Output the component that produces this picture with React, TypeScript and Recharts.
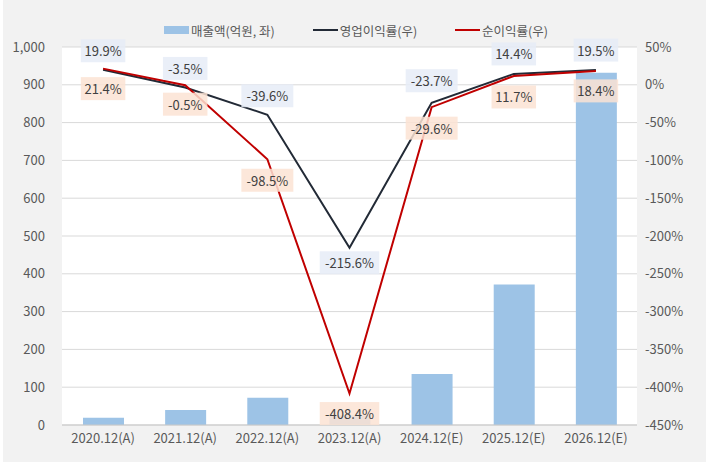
import { ComposedChart, Bar, Line, XAxis, YAxis, CartesianGrid, Legend, LabelList } from "recharts";

const categories = ["2020.12(A)", "2021.12(A)", "2022.12(A)", "2023.12(A)", "2024.12(E)", "2025.12(E)", "2026.12(E)"];
const sales = [19, 40, 72, 25, 135, 372, 932];
const opMargin = [19.9, -3.5, -39.6, -215.6, -23.7, 14.4, 19.5];
const netMargin = [21.4, -0.5, -98.5, -408.4, -29.6, 11.7, 18.4];
const leftTicks = [0, 100, 200, 300, 400, 500, 600, 700, 800, 900, 1000];
const rightTicks = [50, 0, -50, -100, -150, -200, -250, -300, -350, -400, -450];

const data = categories.map((c, i) => ({
  name: c,
  sales: sales[i],
  op: opMargin[i],
  net: netMargin[i],
}));

// label placement (px from the point)
const opOffsets = [-19, -19, -19, 15, -22, -20, -20];
const netOffsets = [20, 19, 21, 20, 21, 21, 20];

const FONT = "'Noto Sans CJK KR', 'Noto Sans', sans-serif";

const makeLabel = (bg: string, offsets: number[], values: number[]) => (props: any) => {
  const { x, y, index } = props;
  const text = `${values[index].toFixed(1)}%`;
  const w = text.length * 7.5 + 7;
  const h = 23;
  const cy = y + offsets[index];
  return (
    <g>
      <rect x={x - w / 2} y={cy - h / 2} width={w} height={h} fill={bg} fillOpacity={0.85} />
      <text x={x} y={cy} textAnchor="middle" dominantBaseline="central" fontSize={13} fill="#404040" fontFamily={FONT}>
        {text}
      </text>
    </g>
  );
};

const legendItems = [
  { label: "매출액(억원, 좌)", type: "rect", color: "#9dc3e6" },
  { label: "영업이익률(우)", type: "line", color: "#222a36" },
  { label: "순이익률(우)", type: "line", color: "#c00000" },
];

function LegendContent() {
  return (
    <div style={{ display: "flex", justifyContent: "center", alignItems: "center", height: 20, gap: 38, paddingLeft: 6, fontFamily: FONT, fontSize: 12.5, color: "#595959" }}>
      {legendItems.map((it) => (
        <div key={it.label} style={{ display: "flex", alignItems: "center" }}>
          <div style={{ width: 25, height: it.type === "rect" ? 8 : 2, background: it.color, marginRight: 2 }} />
          <span>{it.label}</span>
        </div>
      ))}
    </div>
  );
}

export default function App() {
  return (
    <div style={{ position: "absolute", left: 0, top: 0, width: 706, height: 465, background: "#fff" }}>
      <div style={{ position: "absolute", left: 3, top: 0, width: 703, height: 462, background: "#f2f2f2" }} />
      <div style={{ position: "absolute", left: 0, top: 0 }}>
        <ComposedChart width={706} height={465} data={data} margin={{ top: 27, right: 0, bottom: 0, left: 0 }}>
          <CartesianGrid yAxisId="left" vertical={false} stroke="#d9d9d9" fill="#ffffff" />
          <XAxis
            dataKey="name"
            height={40}
            tickLine={false}
            tickSize={0}
            tickMargin={9}
            axisLine={{ stroke: "#c8c8c8" }}
            tick={{ fontSize: 13, fill: "#595959", fontFamily: FONT }}
            interval={0}
          />
          <YAxis
            yAxisId="left"
            width={62}
            domain={[0, 1000]}
            ticks={leftTicks}
            tickLine={false}
            axisLine={false}
            tickSize={0}
            tickMargin={17}
            tickFormatter={(v: number) => v.toLocaleString("en-US")}
            tick={{ fontSize: 13, fill: "#595959", fontFamily: FONT }}
          />
          <YAxis
            yAxisId="right"
            orientation="right"
            width={69}
            domain={[-450, 50]}
            ticks={rightTicks}
            tickLine={false}
            axisLine={false}
            tickSize={0}
            tickMargin={8}
            tickFormatter={(v: number) => `${v}%`}
            tick={{ fontSize: 13, fill: "#595959", fontFamily: FONT, textAnchor: "start" }}
          />
          <Legend verticalAlign="top" content={<LegendContent />} wrapperStyle={{ top: 20 }} />
          <Bar yAxisId="left" dataKey="sales" fill="#9dc3e6" barSize={41} isAnimationActive={false} />
          <Line yAxisId="right" dataKey="op" stroke="#222a36" strokeWidth={2} dot={false} isAnimationActive={false}>
            <LabelList dataKey="op" content={makeLabel("#e6ecf7", opOffsets, opMargin)} />
          </Line>
          <Line yAxisId="right" dataKey="net" stroke="#c00000" strokeWidth={2} dot={false} isAnimationActive={false}>
            <LabelList dataKey="net" content={makeLabel("#fbe3d3", netOffsets, netMargin)} />
          </Line>
        </ComposedChart>
      </div>
    </div>
  );
}
